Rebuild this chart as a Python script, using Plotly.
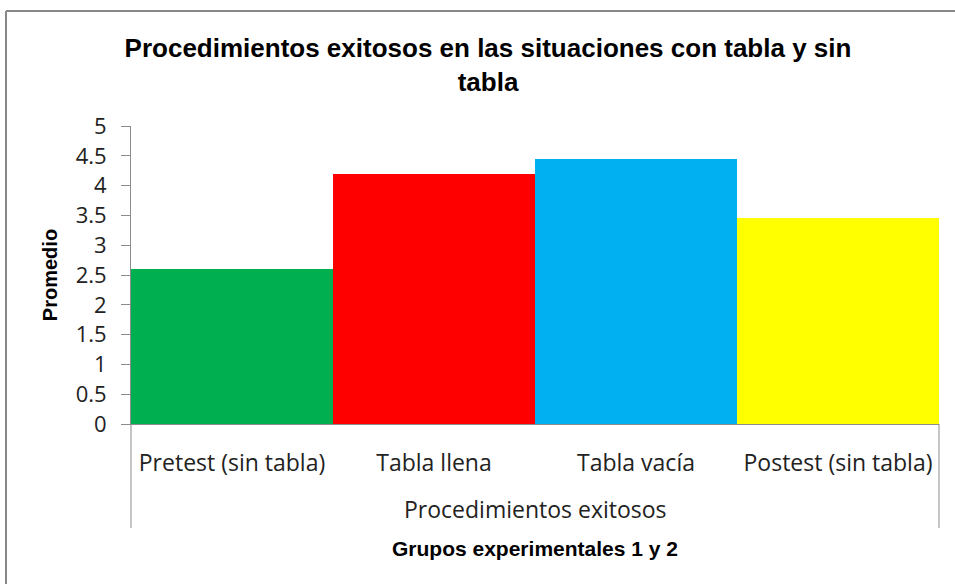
import plotly.graph_objects as go

categories = ["Pretest (sin tabla)", "Tabla llena", "Tabla vacía", "Postest (sin tabla)"]
values = [2.6, 4.2, 4.45, 3.46]
colors = ["#00B050", "#FF0000", "#00B0F0", "#FFFF00"]
group_label = "Procedimientos exitosos"
title_text = "Procedimientos exitosos en las situaciones con tabla y sin<br>tabla"
x_title = "Grupos experimentales 1 y 2"
y_title = "Promedio"
y_ticks = [0, 0.5, 1, 1.5, 2, 2.5, 3, 3.5, 4, 4.5, 5]

W, H = 955, 584
L, R, T, B = 131, 939, 126, 424

def px(x):
    return (x - L) / (R - L)

def py(y):
    return (B - y) / (B - T)

fig = go.Figure(go.Bar(x=categories, y=values, marker=dict(color=colors, line=dict(width=0)),
                       width=1.0, hoverinfo="skip"))

axis_grey = "#8c8c8c"
label_font = dict(family="Open Sans", size=22, color="#222")
xlabel_font = dict(family="Open Sans", size=23, color="#222")
fig.update_layout(
    width=W, height=H,
    margin=dict(l=L, r=W - R, t=T, b=H - B),
    paper_bgcolor="white", plot_bgcolor="white",
    bargap=0, showlegend=False,
    title=dict(text=title_text, x=488 / W, xanchor="center",
               y=(H - 57) / H, yanchor="middle", yref="container",
               font=dict(family="Liberation Sans", size=26, color="black", weight="bold")),
    xaxis=dict(showgrid=False, showline=True, linecolor=axis_grey, linewidth=1,
               ticks="", tickfont=xlabel_font,
               ticklabelstandoff=18, range=[-0.5, 3.5], fixedrange=True),
    yaxis=dict(range=[0, 5], tickvals=y_ticks, showgrid=False, showline=True,
               linecolor=axis_grey, linewidth=1, ticks="outside", ticklen=9,
               tickcolor=axis_grey, tickfont=label_font,
               ticklabelstandoff=10, zeroline=False, fixedrange=True,
               title=dict(text=y_title, standoff=12,
                          font=dict(family="Liberation Sans", size=20, color="black", weight="bold"))),
    annotations=[
        dict(text=group_label, xref="paper", yref="paper", x=0.5, y=py(509),
             xanchor="center", yanchor="middle", showarrow=False,
             font=xlabel_font),
        dict(text=x_title, xref="paper", yref="paper", x=0.5, y=py(548),
             xanchor="center", yanchor="middle", showarrow=False,
             font=dict(family="Liberation Sans", size=21, color="black", weight="bold")),
    ],
    shapes=[
        dict(type="line", xref="paper", yref="paper", x0=0, x1=0, y0=0, y1=py(528),
             line=dict(color=axis_grey, width=1)),
        dict(type="line", xref="paper", yref="paper", x0=1, x1=1, y0=0, y1=py(528),
             line=dict(color=axis_grey, width=1)),
        dict(type="line", xref="paper", yref="paper", x0=px(6), x1=px(958), y0=py(11), y1=py(11),
             line=dict(color="#888888", width=2)),
        dict(type="line", xref="paper", yref="paper", x0=px(6), x1=px(6), y0=py(11), y1=py(590),
             line=dict(color="#888888", width=2)),
    ],
)

fig.write_html("out.html", config={"displayModeBar": False},
               post_script="document.body.style.margin='0';")
